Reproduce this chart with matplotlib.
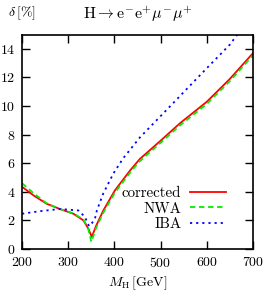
import matplotlib
matplotlib.use("Agg")
from matplotlib import pyplot as plt

plt.rcParams['font.family'] = 'serif'
plt.rcParams['font.serif'] = ['cmr10', 'DejaVu Serif']
plt.rcParams['mathtext.fontset'] = 'cm'
plt.rcParams['axes.formatter.use_mathtext'] = True

# corrected (red, solid)
m_corr = [200, 225, 253, 282, 311, 333, 343, 351, 360, 376, 401, 434, 455, 499, 542, 600, 650, 700]
d_corr = [4.35, 3.75, 3.17, 2.8, 2.47, 2.0, 1.45, 0.85, 1.6, 2.7, 4.1, 5.5, 6.3, 7.55, 8.8, 10.3, 11.9, 13.7]

# NWA (green, dashed)
m_nwa = [200, 225, 253, 282, 311, 333, 343, 350, 360, 376, 401, 434, 455, 499, 542, 600, 650, 700]
d_nwa = [4.6, 3.9, 3.2, 2.8, 2.5, 2.05, 1.45, 0.5, 1.45, 2.55, 3.95, 5.35, 6.15, 7.4, 8.65, 10.15, 11.75, 13.55]

# IBA (blue, dotted)
m_iba = [200, 239, 282, 322, 336, 345, 351, 358, 362, 376, 398, 419, 455, 491, 524, 600, 650, 666]
d_iba = [2.47, 2.65, 2.8, 2.7, 2.25, 1.6, 1.8, 2.15, 2.7, 3.9, 5.3, 6.35, 7.8, 9.0, 10.1, 12.65, 14.3, 15.0]

xticks = [200, 300, 400, 500, 600, 700]
yticks = [0, 2, 4, 6, 8, 10, 12, 14]

fig = plt.figure(figsize=(2.66, 2.93), dpi=100)
ax = fig.add_axes([0.083, 0.150, 0.868, 0.732])

ax.plot(m_corr, d_corr, color='#ff0000', lw=1.3, label='corrected')
ax.plot(m_nwa, d_nwa, color='#00ee00', lw=1.3, ls=(0, (3, 2)), label='NWA')
ax.plot(m_iba, d_iba, color='#0000ff', lw=1.3, ls=(0, (1.2, 2.2)), label='IBA')

ax.set_xlim(200, 700)
ax.set_ylim(0, 15)
ax.set_xticks(xticks)
ax.set_yticks(yticks)
ax.tick_params(direction='in', top=True, right=True, length=6, width=1, labelsize=10, pad=5)
for s in ax.spines.values():
    s.set_linewidth(1.2)

ax.set_xlabel(r'$M_{\mathrm{H}}\,[\mathrm{GeV}]$', fontsize=10, labelpad=3)
fig.text(0.03, 0.955, r'$\delta\,[\%]$', fontsize=10, va='center', ha='left')
fig.text(0.52, 0.950, r'$\mathrm{H}\rightarrow\mathrm{e}^{-}\mathrm{e}^{+}\mu^{-}\mu^{+}$', fontsize=11.5, va='center', ha='center')

ax.legend(loc='upper right', bbox_to_anchor=(0.93, 0.34), frameon=False, markerfirst=False,
          fontsize=10.8, handlelength=2.4, labelspacing=0.1, handletextpad=0.6, borderpad=0.2)

fig.savefig("out.png", dpi=100)
